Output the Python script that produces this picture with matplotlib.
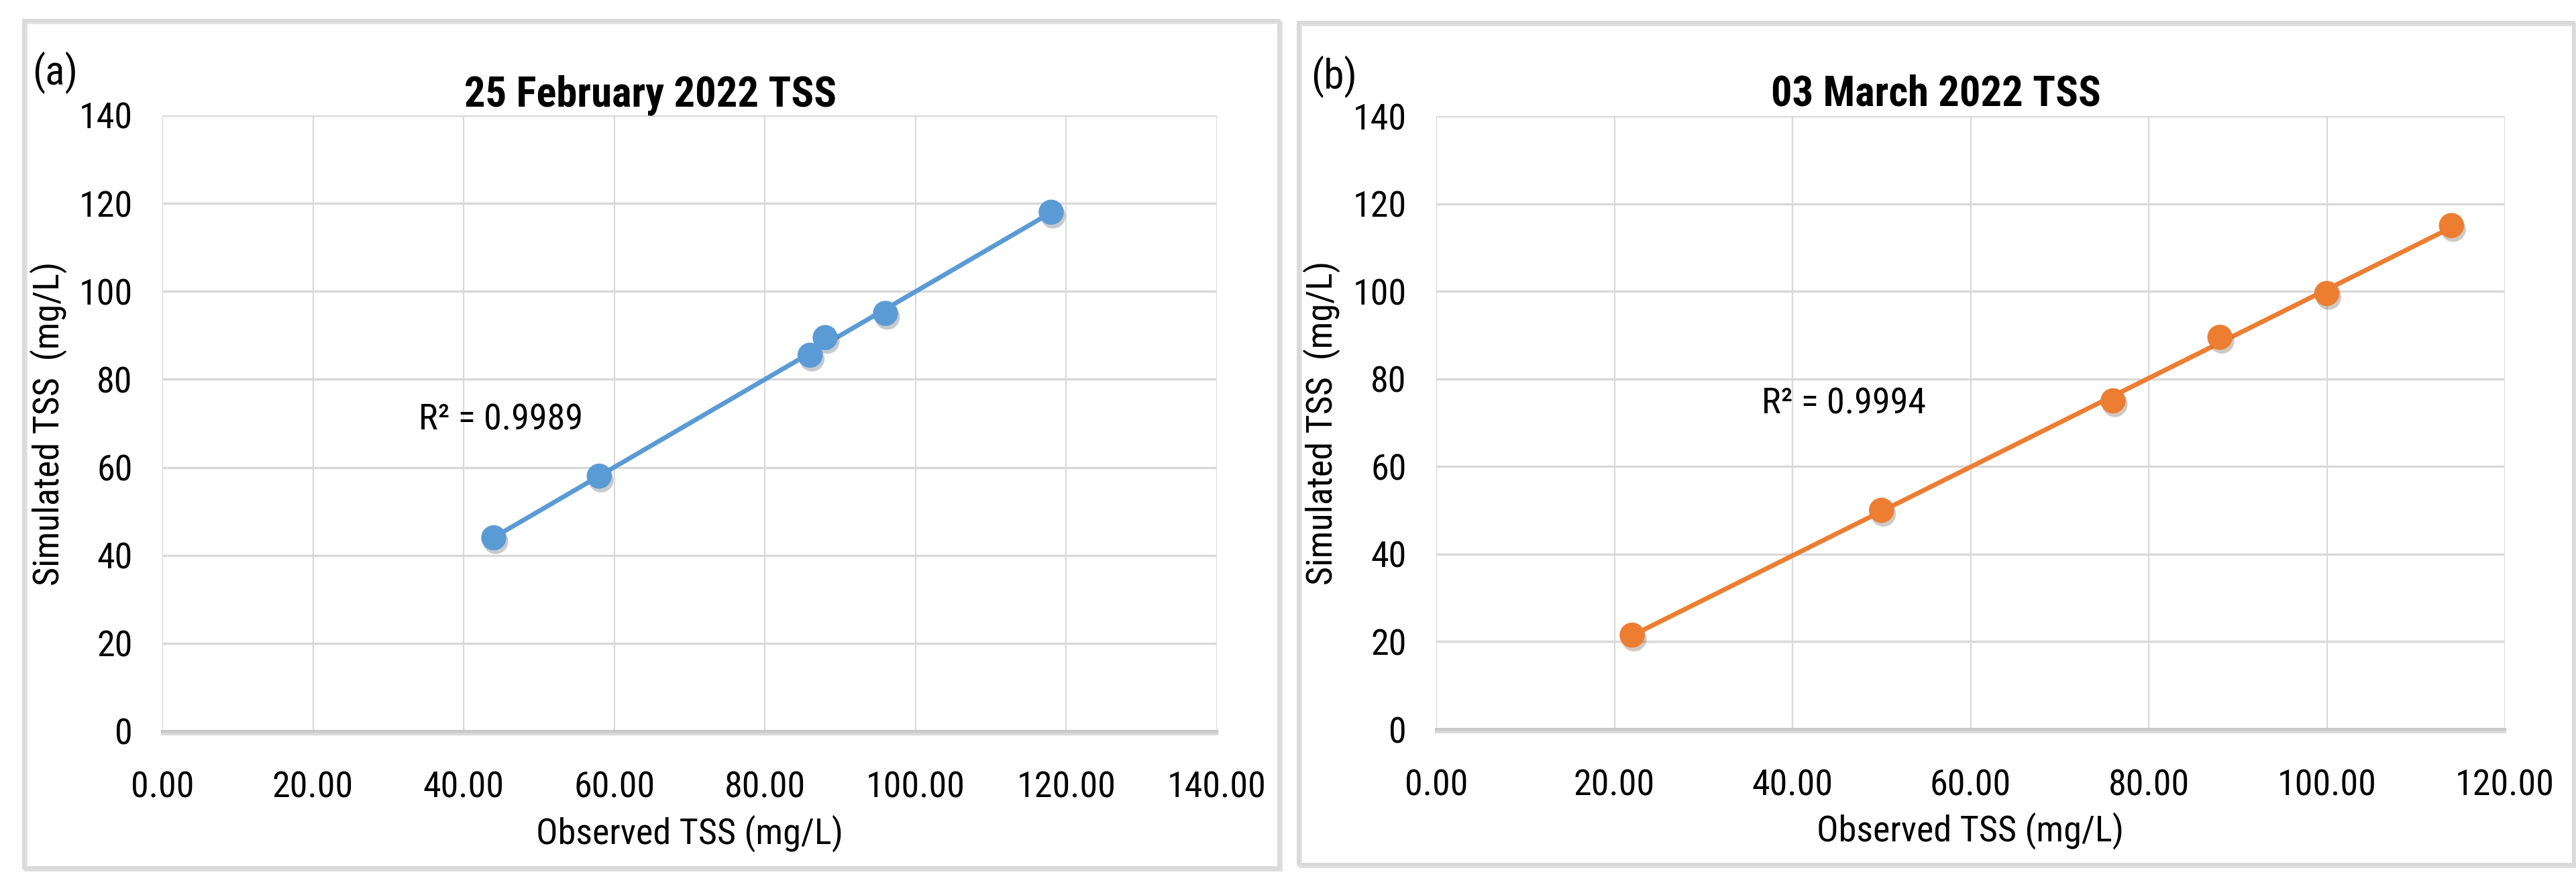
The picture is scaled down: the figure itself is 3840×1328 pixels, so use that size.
import matplotlib
matplotlib.use("Agg")
import matplotlib.pyplot as plt
import matplotlib.patheffects as pe
from matplotlib.patches import Rectangle
from matplotlib.ticker import FormatStrFormatter
import numpy as np

# data
obs_feb = [44, 58, 86, 88, 96, 118]
sim_feb = [44, 58, 85.5, 89.5, 95, 118]
obs_mar = [22, 50, 76, 88, 100, 114]
sim_mar = [21.5, 50, 75, 89.5, 99.5, 115]

titles = ["25 February 2022 TSS", "03 March 2022 TSS"]
panel_tags = ["(a)", "(b)"]
r2_labels = ["R\u00b2 = 0.9989", "R\u00b2 = 0.9994"]
x_max = [140, 120]
y_ticks = [0, 20, 40, 60, 80, 100, 120, 140]

blue = "#5B9BD5"
orange = "#ED7D31"
grid_col = "#D9D9D9"

plt.rcParams["font.family"] = ["Roboto Condensed", "DejaVu Sans"]

W, H = 3840, 1328
fig = plt.figure(figsize=(W / 100, H / 100), dpi=100, facecolor="white")
FS = 39


def fx(px):
    return px / W


def fy(py):
    return 1 - py / H


# chart-area frames (stroke-only shadow, no fill)
frames = [(35, 30, 1906, 1293), (1935, 33, 3836, 1288)]
for (x0, y0, x1, y1) in frames:
    fig.patches.append(Rectangle((fx(x0), fy(y1)), fx(x1 - x0), (y1 - y0) / H,
                                 transform=fig.transFigure, fill=False,
                                 edgecolor=grid_col, lw=3.5, zorder=-1,
                                 path_effects=[pe.SimpleLineShadow(offset=(2, -2), alpha=0.12), pe.Normal()]))

plot_boxes = [(242, 172, 1814, 1090), (2141, 173, 3734, 1087)]
datasets = [(obs_feb, sim_feb, blue), (obs_mar, sim_mar, orange)]
r2_pos = [(34, 68.6), (36.5, 72.1)]
title_x = [970, 2886]
ylabel_x = [(100 - 242) / 1572, (1998 - 2141) / 1593]

for i in range(2):
    x0, y0, x1, y1 = plot_boxes[i]
    ax = fig.add_axes([fx(x0), fy(y1), fx(x1 - x0), (y1 - y0) / H])
    ax.set_facecolor("white")
    obs, sim, col = datasets[i]
    xt = np.arange(0, x_max[i] + 1, 20)

    ax.set_xlim(0, x_max[i])
    ax.set_ylim(0, 140)
    ax.set_xticks(xt)
    ax.set_yticks(y_ticks)
    ax.xaxis.set_major_formatter(FormatStrFormatter("%.2f"))
    ax.tick_params(length=0, labelsize=FS, colors="black")
    ax.tick_params(axis="x", pad=42)
    ax.tick_params(axis="y", pad=32)

    for v in y_ticks[1:]:
        ax.axhline(v, color=grid_col, lw=2.5, zorder=0)
    for v in xt:
        ax.axvline(v, color=grid_col, lw=1.6, zorder=0)
    for s in ax.spines.values():
        s.set_visible(False)
    ax.axhline(0, color="#C8C8C8", lw=3, zorder=1, clip_on=False,
               path_effects=[pe.SimpleLineShadow(offset=(0, -3), alpha=0.15), pe.Normal()])

    # linear trendline over the data range
    k, b = np.polyfit(obs, sim, 1)
    xs = np.array([min(obs), max(obs)])
    ax.plot(xs, k * xs + b, color=col, lw=5, zorder=2, solid_capstyle="round")
    ax.scatter(obs, sim, s=27 ** 2, color=col, zorder=3, linewidths=0,
               path_effects=[pe.SimplePatchShadow(offset=(2, -4), alpha=0.25), pe.Normal()])

    ax.text(r2_pos[i][0], r2_pos[i][1], r2_labels[i], fontsize=FS, ha="left", va="baseline")

    ax.set_xlabel("Observed TSS (mg/L)", fontsize=FS)
    ax.set_ylabel("Simulated TSS  (mg/L)", fontsize=FS)
    ax.xaxis.set_label_coords(0.5, -0.135)
    ax.yaxis.set_label_coords(ylabel_x[i], 0.5)

    fig.text(fx(title_x[i]), fy(158), titles[i], fontsize=45, fontweight="bold",
             ha="center", va="baseline")
    fig.text(fx(48 if i == 0 else 1954), fy(77 if i == 0 else 83), panel_tags[i],
             fontsize=44, ha="left", va="top")

fig.savefig("out.png", dpi=100, facecolor="white")
